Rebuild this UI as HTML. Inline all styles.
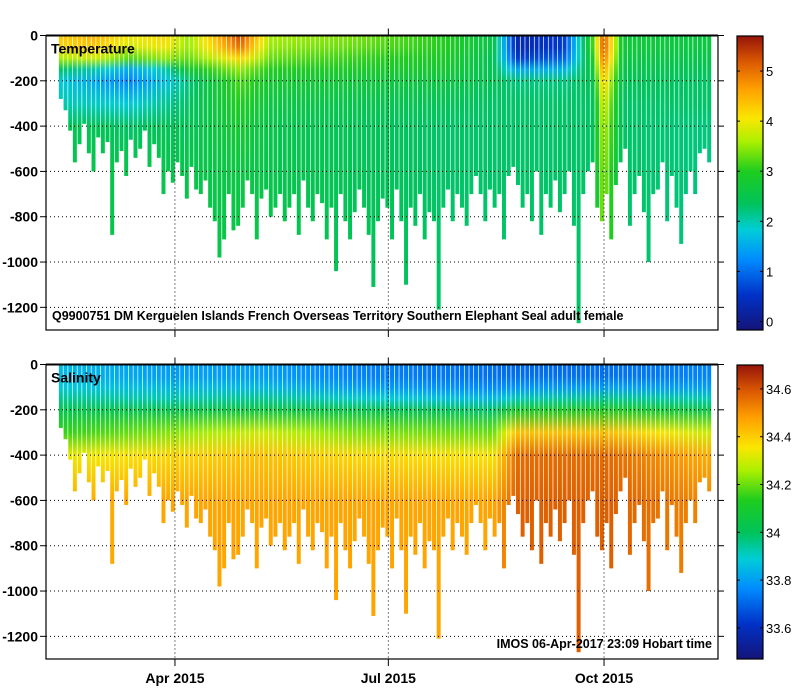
<!DOCTYPE html>
<html><head><meta charset="utf-8"><style>
body{margin:0;background:#fff;}
svg{display:block;font-family:"Liberation Sans",Arial,sans-serif;}
</style></head><body>
<svg id="c" width="799" height="700" xmlns="http://www.w3.org/2000/svg"></svg>
<script>
// ---- data ----
const depthLevels=[0,50,100,150,200,300,400,600,1300];
const tempSegDays=[5,20,35,50,60,82,95,130,170,190,200,220,232,237,245,280];
const tempProfiles=[
[4.3,4.2,3.6,2.3,1.8,2.0,2.4,2.5,2.5],
[4.5,4.3,3.8,2.0,1.5,1.9,2.4,2.5,2.5],
[4.0,3.8,3.2,1.5,1.2,1.8,2.3,2.5,2.5],
[4.2,4.0,3.5,2.0,1.7,2.1,2.4,2.5,2.5],
[3.5,3.5,3.3,2.8,2.2,2.3,2.4,2.5,2.5],
[5.3,5.0,4.2,3.5,3.2,3.0,2.8,2.6,2.5],
[3.6,3.5,3.3,3.0,2.8,2.6,2.5,2.5,2.5],
[3.4,3.3,3.1,2.9,2.7,2.5,2.4,2.4,2.4],
[3.0,3.0,2.9,2.8,2.6,2.4,2.3,2.3,2.3],
[2.5,2.5,2.4,2.4,2.4,2.3,2.3,2.3,2.3],
[0.3,0.3,0.6,1.5,2.2,2.3,2.3,2.3,2.3],
[0.6,0.6,0.9,1.6,2.2,2.3,2.3,2.3,2.3],
[3.0,3.0,2.8,2.6,2.4,2.3,2.3,2.3,2.3],
[5.2,5.2,5.0,4.6,4.3,3.9,3.7,3.5,3.5],
[2.7,2.7,2.6,2.5,2.4,2.3,2.3,2.3,2.3],
[2.6,2.6,2.5,2.4,2.3,2.3,2.2,2.2,2.2]];
const salSegDays=[5,50,90,130,190,200,240,280];
const salProfiles=[
[33.85,33.85,33.88,33.95,34.02,34.15,34.33,34.45,34.47],
[33.8,33.8,33.85,33.92,34.02,34.22,34.38,34.47,34.47],
[33.8,33.8,33.85,33.95,34.05,34.3,34.42,34.47,34.47],
[33.75,33.75,33.8,33.9,34.02,34.22,34.38,34.47,34.47],
[33.72,33.72,33.76,33.85,33.98,34.2,34.36,34.47,34.47],
[33.7,33.72,33.78,33.92,34.1,34.42,34.56,34.58,34.58],
[33.72,33.72,33.8,33.95,34.12,34.42,34.56,34.58,34.58],
[33.75,33.75,33.8,33.92,34.03,34.3,34.46,34.52,34.52]];
const castMaxDepth=[280,330,420,560,480,390,520,600,450,520,
470,880,560,510,620,460,540,500,420,580,
480,540,700,600,650,560,620,720,580,680,
700,640,760,820,980,900,700,860,840,760,
640,700,900,720,680,800,760,700,820,760,
700,880,640,760,820,700,740,900,760,1040,
700,820,900,780,680,760,880,1110,820,720,
760,900,680,820,1100,760,840,700,900,780,
820,1210,760,680,820,700,760,840,700,620,
700,820,680,760,700,900,620,580,660,760,
700,820,600,880,700,760,640,780,700,600,
840,1270,700,600,560,760,820,700,900,660,
560,500,840,700,620,780,1000,700,680,560,
820,620,760,920,700,600,700,520,500,560];
const depthTicks=[0,-200,-400,-600,-800,-1000,-1200];
const dateTickDays=[55,146,238];
const dateTickLabels=["Apr 2015","Jul 2015","Oct 2015"];
const tempTicks=[0,1,2,3,4,5];
const salTicks=[33.6,33.8,34,34.2,34.4,34.6];

// ---- geometry ----
const X0=46,X1=718,DAY0=0,DAY1=286.6;
const panels=[{top:35.5,h:294.5,name:"temperature"},{top:364.5,h:294.5,name:"salinity"}];
const DMAX=1300;
const xs=d=>X0+(d-DAY0)/(DAY1-DAY0)*(X1-X0);
const ys=(p,dep)=>p.top+dep/DMAX*p.h;
const cmap=[[0,[20,20,120]],[0.12,[0,50,200]],[0.24,[0,140,255]],[0.34,[0,205,215]],[0.43,[0,195,90]],[0.54,[30,205,30]],[0.64,[170,240,0]],[0.72,[250,230,0]],[0.82,[255,160,0]],[0.91,[220,90,0]],[1,[150,20,10]]];
function col(t){t=Math.max(0,Math.min(1,t));for(let i=1;i<cmap.length;i++){if(t<=cmap[i][0]){const a=cmap[i-1],b=cmap[i],f=(t-a[0])/(b[0]-a[0]);const c=a[1].map((v,k)=>Math.round(v+(b[1][k]-v)*f));return `rgb(${c})`;}}return "rgb(150,20,10)";}
const tNorm=v=>(v+0.17)/5.87, sNorm=v=>(v-33.47)/1.23;
const NS="http://www.w3.org/2000/svg";
const svg=document.getElementById('c');
function el(tag,attrs,parent){const e=document.createElementNS(NS,tag);for(const k in attrs)e.setAttribute(k,attrs[k]);(parent||svg).appendChild(e);return e;}
const defs=el('defs',{});
function profAt(days,profs,d){let i=0;while(i<days.length-1&&days[i+1]<d)i++;if(d<=days[0])return profs[0];if(i>=days.length-1)return profs[profs.length-1];const f=(d-days[i])/(days[i+1]-days[i]);return profs[i].map((v,k)=>v+(profs[i+1][k]-v)*f);}

const n=castMaxDepth.length, firstDay=5.5, step=(282-5.5)/(n-1);
const barW=xs(step)-xs(0)-0.7;
panels.forEach((p,pi)=>{
  const g=el('g',{},svg);
  
  
  depthTicks.forEach(t=>{const y=ys(p,-t);if(t!==0){const l=el('line',{x1:X0,x2:X1,y1:y,y2:y,stroke:'#000','stroke-width':1,'stroke-dasharray':'1,3'});}});
  dateTickDays.forEach(d=>{const x=xs(d);const l=el('line',{x1:x,x2:x,y1:p.top,y2:p.top+p.h,stroke:'#000','stroke-width':1,'stroke-dasharray':'1,3'});});
  for(let i=0;i<n;i++){
    const day=firstDay+i*step, x=xs(day);
    const pr=pi==0?profAt(tempSegDays,tempProfiles,day):profAt(salSegDays,salProfiles,day);
    const gid='g'+pi+'_'+i;
    const lg=el('linearGradient',{id:gid,gradientUnits:'userSpaceOnUse',x1:0,x2:0,y1:ys(p,0),y2:ys(p,DMAX)},defs);
    depthLevels.forEach((dv,k)=>{el('stop',{offset:dv/DMAX,'stop-color':col(pi==0?tNorm(pr[k]):sNorm(pr[k]))},lg);});
    const r=el('rect',{x:x,y:p.top+1,width:barW,height:ys(p,castMaxDepth[i])-p.top-1,fill:`url(#${gid})`},g);
    
    
  }
  const fr=el('rect',{x:X0,y:p.top,width:X1-X0,height:p.h,fill:'none',stroke:'#000','stroke-width':1.2});
  
  el('line',{x1:X0,x2:X1,y1:p.top,y2:p.top,stroke:'#000','stroke-width':2});
  depthTicks.forEach(t=>{const y=ys(p,-t);el('line',{x1:X0-6,x2:X0,y1:y,y2:y,stroke:'#000'});el('line',{x1:X1,x2:X1+6,y1:y,y2:y,stroke:'#000'});
    const tx=el('text',{x:38,y:y+5,'text-anchor':'end','font-size':14,'font-weight':'bold'});tx.textContent=t;});
  dateTickDays.forEach(d=>{const x=xs(d);el('line',{x1:x,x2:x,y1:p.top-7,y2:p.top,stroke:'#000'});el('line',{x1:x,x2:x,y1:p.top+p.h,y2:p.top+p.h+7,stroke:'#000'});});
  const ti=el('text',{x:51,y:p.top+18,'font-size':14,'font-weight':'bold'});ti.textContent=pi==0?'Temperature':'Salinity';
  
  const cy0=p.top+0.5,cy1=p.top+p.h;
  const cg=el('linearGradient',{id:'cb'+pi,x1:0,x2:0,y1:1,y2:0},defs);
  cmap.forEach(s=>el('stop',{offset:s[0],'stop-color':`rgb(${s[1]})`},cg));
  const cb=el('rect',{x:737,y:cy0,width:26,height:cy1-cy0,fill:`url(#cb${pi})`,stroke:'#000','stroke-width':1.2});
  
  const ticks=pi==0?tempTicks:salTicks;
  ticks.forEach(v=>{const t=pi==0?tNorm(v):sNorm(v);const y=cy1-t*(cy1-cy0);
    el('line',{x1:737,x2:740,y1:y,y2:y,stroke:'#000'});el('line',{x1:760,x2:763,y1:y,y2:y,stroke:'#000'});
    const tx=el('text',{x:766,y:y+5,'font-size':13});tx.textContent=v;});
});
dateTickDays.forEach((d,i)=>{const tx=el('text',{x:xs(d),y:683,'text-anchor':'middle','font-size':14,'font-weight':'bold'});tx.textContent=dateTickLabels[i];});
const t1=el('text',{x:52,y:320,'font-size':12.5,'font-weight':'bold'});t1.textContent='Q9900751 DM Kerguelen Islands French Overseas Territory Southern Elephant Seal adult female';

const t2=el('text',{x:712,y:648,'font-size':12.5,'font-weight':'bold','text-anchor':'end'});t2.textContent='IMOS 06-Apr-2017 23:09 Hobart time';

</script>
</body></html>
